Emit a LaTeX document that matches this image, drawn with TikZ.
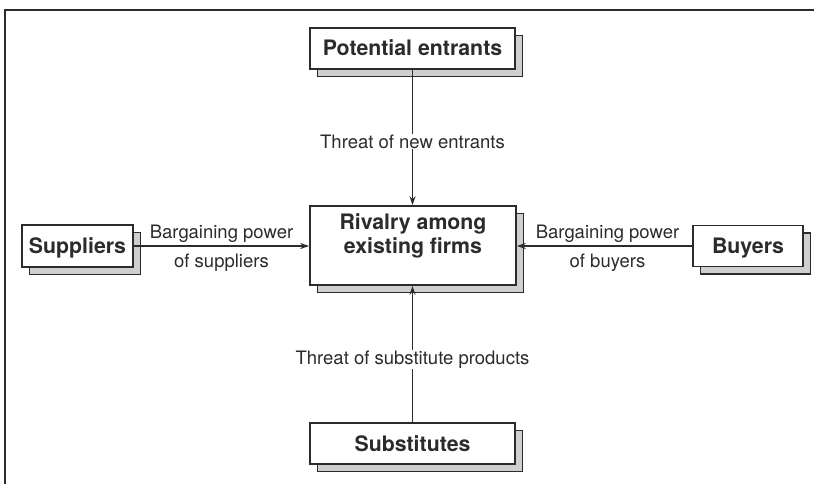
\documentclass[tikz,border=0pt]{standalone}
\usepackage{fontspec}
\setmainfont{TeX Gyre Heros}
\usetikzlibrary{arrows.meta,shadows}
\definecolor{ink}{HTML}{2B2B2B}
\definecolor{shade}{HTML}{CFCFCF}
\begin{document}
\begin{tikzpicture}[x=1pt,y=-1pt,
  force/.style={draw=ink, line width=1.6pt, fill=white,
    copy shadow={shadow xshift=7.5pt, shadow yshift=-7.5pt, fill=shade, draw=ink, line width=1.6pt},
    font=\fontsize{21.3}{24}\selectfont\bfseries, text=ink, align=center,
    text height=15pt, text depth=0pt, inner sep=0pt},
  flow/.style={draw=ink, line width=1.2pt, -{Stealth[length=9pt,width=6pt]}},
  lbl/.style={font=\fontsize{18.5}{22}\selectfont, text=ink, inner sep=1pt}]
  \useasboundingbox (0,0) rectangle (814,484);
  % frame: top and left rules
  \draw[ink, line width=2pt] (5,484) -- (5,10) -- (814,10);

  % the five forces
  \node[force, minimum width=205pt, minimum height=41pt] (pe) at (412.5,48.5) {Potential entrants};
  \node[force, minimum width=206pt, minimum height=79pt] (rv) at (413,245.5) {Rivalry among\\[-0.5pt]existing firms};
  \node[force, minimum width=111pt, minimum height=42pt] (su) at (77.5,246) {Suppliers};
  \node[force, minimum width=110pt, minimum height=41pt] (bu) at (748,246) {Buyers};
  \node[force, minimum width=205pt, minimum height=41pt] (sb) at (412.5,443.5) {Substitutes};

  % connectors
  \draw[flow] (pe) -- node[lbl, fill=white, pos=0.53] {Threat of new entrants} (pe |- rv.north);
  \draw[flow] (sb) -- node[lbl, fill=white, pos=0.46] {Threat of substitute products} (sb |- rv.south);
  \draw[flow] (su) -- node[lbl, anchor=base, yshift=7.7pt] {Bargaining power}
                      node[lbl, anchor=base, yshift=-21.3pt] {of suppliers} (su -| rv.west);
  \draw[flow] (bu) -- node[lbl, anchor=base, yshift=7.7pt, xshift=3pt] {Bargaining power}
                      node[lbl, anchor=base, yshift=-21.3pt, xshift=3pt] {of buyers} (bu -| rv.east);
\end{tikzpicture}
\end{document}
